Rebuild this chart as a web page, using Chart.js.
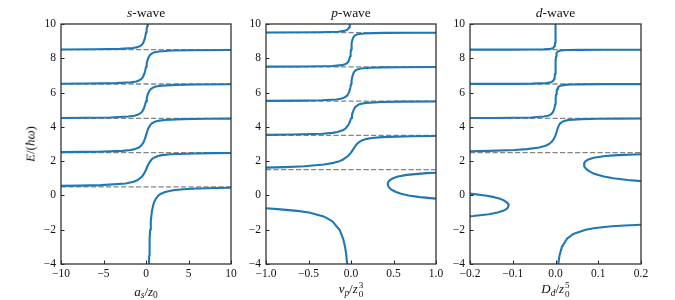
<!DOCTYPE html>
<html><head><meta charset="utf-8">
<script src="https://cdn.jsdelivr.net/npm/chart.js@4.4.1/dist/chart.umd.min.js"></script>
<style>
html,body{margin:0;padding:0;background:#fff;}
#wrap{position:relative;width:675px;height:300px;overflow:hidden;font-family:"Liberation Serif","Times New Roman",serif;color:#111;}
canvas{position:absolute;top:0;}
.t{position:absolute;transform:translate(-50%,-50%);white-space:nowrap;font-size:13.5px;line-height:1;}
.xl{font-size:13px;}
.t sub{font-size:72%;vertical-align:-0.3em;line-height:0;}
.ss{display:inline-flex;flex-direction:column;font-size:70%;line-height:0.95;vertical-align:middle;margin-left:1px;}
</style></head>
<body>
<div id="wrap">
<canvas id="cs" width="245" height="300" style="left:0px"></canvas>
<canvas id="cp" width="205" height="300" style="left:245px"></canvas>
<canvas id="cd" width="225" height="300" style="left:450px"></canvas>
<div class="t" style="left:146px;top:12.5px"><i>s</i>-wave</div>
<div class="t" style="left:351px;top:12.5px"><i>p</i>-wave</div>
<div class="t" style="left:555.5px;top:12.5px"><i>d</i>-wave</div>
<div class="t xl" style="left:146px;top:291px"><i>a</i><sub><i>s</i></sub>/<i>z</i><sub>0</sub></div>
<div class="t xl" style="left:351px;top:290px"><i>v</i><sub><i>p</i></sub>/<i>z</i><span class="ss"><span>3</span><span>0</span></span></div>
<div class="t xl" style="left:555.5px;top:290px"><i>D</i><sub><i>d</i></sub>/<i>z</i><span class="ss"><span>5</span><span>0</span></span></div>
<div class="t xl" style="left:30px;top:144px;transform:translate(-50%,-50%) rotate(-90deg)"><i>E</i>/(<i>ħω</i>)</div>
</div>
<script>
// ---- axis ticks ----
const yTicks = [-4, -2, 0, 2, 4, 6, 8, 10];
const yTickLabels = ['\u22124', '\u22122', '0', '2', '4', '6', '8', '10'];
const sTicks = [-10, -5, 0, 5, 10];
const sTickLabels = ['\u221210', '\u22125', '0', '5', '10'];
const pTicks = [-1, -0.5, 0, 0.5, 1];
const pTickLabels = ['\u22121.0', '\u22120.5', '0.0', '0.5', '1.0'];
const dTicks = [-0.2, -0.1, 0, 0.1, 0.2];
const dTickLabels = ['\u22120.2', '\u22120.1', '0.0', '0.1', '0.2'];

// ---- dashed reference levels E/(hbar omega) ----
const sLevels = [0.5, 2.5, 4.5, 6.5, 8.5];
const pLevels = [1.5, 3.5, 5.5, 7.5, 9.5];
const dLevels = [2.5, 4.5, 6.5, 8.5];

// ---- s-wave branches [a_s/z0, E] ----
const s0 = [[0.352,-4],[0.376,-3.5],[0.406,-3],[0.443,-2.5],[0.493,-2],[0.564,-1.5],[0.676,-1],[0.742,-0.8],[0.886,-0.5],[0.995,-0.35],[1.144,-0.2],[1.479,0],[1.768,0.1],[2.245,0.2],[3.19,0.3],[4.4,0.36],[6.02,0.4],[8.4,0.43],[10,0.444]];
const s1 = [[-10,0.556],[-7.8,0.57],[-5.26,0.6],[-2.39,0.7],[-1.45,0.8],[-0.973,0.9],[-0.471,1.1],[-0.196,1.3],[0,1.5],[0.173,1.7],[0.367,1.9],[0.662,2.1],[0.926,2.2],[1.422,2.3],[1.9,2.35],[2.857,2.4],[5.685,2.45],[8,2.465],[10,2.472]];
const s2 = [[-10,2.528],[-7.5,2.538],[-5.63,2.55],[-2.77,2.6],[-1.81,2.65],[-1.324,2.7],[-0.83,2.8],[-0.571,2.9],[-0.292,3.1],[-0.126,3.3],[0,3.5],[0.119,3.7],[0.26,3.9],[0.481,4.1],[0.677,4.2],[1.049,4.3],[1.412,4.35],[2.129,4.4],[4.26,4.45],[7.09,4.47],[10,4.479]];
const s3 = [[-10,4.521],[-7,4.53],[-4.21,4.55],[-2.082,4.6],[-1.366,4.65],[-1.004,4.7],[-0.634,4.8],[-0.44,4.9],[-0.227,5.1],[-0.1,5.3],[0,5.5],[0.096,5.7],[0.212,5.9],[0.394,6.1],[0.557,6.2],[0.867,6.3],[1.169,6.35],[1.765,6.4],[3.537,6.45],[5.89,6.47],[10,6.482]];
const s4 = [[-10,6.518],[-7,6.525],[-3.511,6.55],[-1.738,6.6],[-1.142,6.65],[-0.841,6.7],[-0.532,6.8],[-0.37,6.9],[-0.193,7.1],[-0.085,7.3],[0,7.5],[0.083,7.7],[0.183,7.9],[0.342,8.1],[0.485,8.2],[0.755,8.3],[1.019,8.35],[1.54,8.4],[3.091,8.45],[5.15,8.47],[10,8.485]];
const s5 = [[-10,8.515],[-6,8.526],[-3.073,8.55],[-1.522,8.6],[-1.001,8.65],[-0.738,8.7],[-0.468,8.8],[-0.326,8.9],[-0.17,9.1],[-0.075,9.3],[0,9.5],[0.074,9.7],[0.163,9.9],[0.224,10]];

// ---- p-wave branches [v_p/z0^3, E] ----
const pLow = [[-1,-0.745],[-0.864,-0.8],[-0.632,-0.9],[-0.493,-1],[-0.311,-1.25],[-0.222,-1.5],[-0.135,-2],[-0.094,-2.5],[-0.07,-3],[-0.055,-3.5],[-0.045,-4]];
const pLoop = [[1,1.325],[0.887,1.3],[0.66,1.2],[0.553,1.1],[0.493,1.0],[0.459,0.9],[0.44,0.8],[0.4325,0.7],[0.434,0.6],[0.443,0.5],[0.461,0.4],[0.489,0.3],[0.53,0.2],[0.589,0.1],[0.676,0],[0.811,-0.1],[1,-0.185]];
const p1 = [[-1,1.62],[-0.777,1.65],[-0.548,1.7],[-0.317,1.8],[-0.203,1.9],[-0.135,2.0],[-0.0915,2.1],[-0.0353,2.3],[0,2.5],[0.0271,2.7],[0.0541,2.9],[0.0704,3.0],[0.0919,3.1],[0.1248,3.2],[0.1862,3.3],[0.246,3.35],[0.365,3.4],[0.719,3.45],[1,3.464]];
const p2 = [[-1,3.535],[-0.699,3.55],[-0.337,3.6],[-0.218,3.65],[-0.158,3.7],[-0.0974,3.8],[-0.0659,3.9],[-0.0317,4.1],[-0.0131,4.3],[0,4.5],[0.0114,4.7],[0.024,4.9],[0.0428,5.1],[0.0593,5.2],[0.0902,5.3],[0.12,5.35],[0.18,5.4],[0.357,5.45],[0.592,5.47],[1,5.482]];
const p3 = [[-1,5.518],[-0.585,5.53],[-0.348,5.55],[-0.1705,5.6],[-0.111,5.65],[-0.0813,5.7],[-0.0504,5.8],[-0.0344,5.9],[-0.0172,6.1],[-0.0073,6.3],[0,6.5],[0.0067,6.7],[0.0143,6.9],[0.026,7.1],[0.0363,7.2],[0.0557,7.3],[0.0746,7.35],[0.1118,7.4],[0.222,7.45],[0.369,7.47],[0.552,7.48],[1,7.489]];
const p4 = [[-1,7.511],[-0.55,7.52],[-0.2185,7.55],[-0.1073,7.6],[-0.07,7.65],[-0.0511,7.7],[-0.032,7.8],[-0.022,7.9],[-0.0112,8.1],[-0.0048,8.3],[0,8.5],[0.0045,8.7],[0.0097,8.9],[0.0178,9.1],[0.0249,9.2],[0.0385,9.3],[0.0516,9.35],[0.0777,9.4],[0.155,9.45],[0.257,9.47],[0.386,9.48],[0.772,9.49],[1,9.492]];
const p5 = [[-1,9.508],[-0.385,9.52],[-0.1525,9.55],[-0.0751,9.6],[-0.0491,9.65],[-0.036,9.7],[-0.0226,9.8],[-0.0157,9.9],[-0.0112,10]];

// ---- d-wave branches [D_d/z0^5, E] ----
const dLow = [[0.2,-1.71],[0.162,-1.75],[0.1317,-1.8],[0.0929,-1.9],[0.0704,-2],[0.0414,-2.25],[0.0277,-2.5],[0.015,-3],[0.0094,-3.5],[0.0064,-4]];
const dLoopL = [[-0.2,0.105],[-0.1644,0],[-0.1434,-0.1],[-0.1294,-0.2],[-0.1201,-0.3],[-0.1141,-0.4],[-0.1108,-0.5],[-0.1098,-0.6],[-0.1112,-0.7],[-0.1153,-0.8],[-0.1227,-0.9],[-0.1352,-1],[-0.1559,-1.1],[-0.1927,-1.2],[-0.2,-1.215]];
const dLoopR = [[0.2,2.401],[0.1451,2.35],[0.1167,2.3],[0.0893,2.2],[0.0768,2.1],[0.0704,2.0],[0.0675,1.9],[0.0667,1.8],[0.0676,1.7],[0.0699,1.6],[0.0738,1.5],[0.0795,1.4],[0.0874,1.3],[0.0982,1.2],[0.1133,1.1],[0.1352,1.0],[0.169,0.9],[0.193,0.85],[0.2,0.835]];
const d1 = [[-0.2,2.58],[-0.1547,2.6],[-0.096,2.65],[-0.0667,2.7],[-0.0377,2.8],[-0.0234,2.9],[-0.015,3.0],[-0.0099,3.1],[-0.0037,3.3],[0,3.5],[0.0026,3.7],[0.005,3.9],[0.0064,4.0],[0.0083,4.1],[0.011,4.2],[0.0162,4.3],[0.0212,4.35],[0.0311,4.4],[0.0606,4.45],[0.0999,4.47],[0.149,4.48],[0.2,4.485]];
const d2 = [[-0.2,4.515],[-0.1465,4.52],[-0.057,4.55],[-0.0275,4.6],[-0.0176,4.65],[-0.0127,4.7],[-0.0076,4.8],[-0.0051,4.9],[-0.0024,5.1],[-0.001,5.3],[0,5.5],[0.0008,5.7],[0.0016,5.9],[0.0028,6.1],[0.0039,6.2],[0.0058,6.3],[0.0077,6.35],[0.0114,6.4],[0.0225,6.45],[0.0372,6.47],[0.0556,6.48],[0.1106,6.49],[0.2,6.4945]];
const d3 = [[-0.2,6.5055],[-0.11,6.51],[-0.0548,6.52],[-0.0216,6.55],[-0.0105,6.6],[-0.0049,6.7],[-0.003,6.8],[-0.002,6.9],[-0.001,7.1],[-0.0004,7.3],[0,7.5],[0.0004,7.7],[0.0008,7.9],[0.0013,8.1],[0.0019,8.2],[0.0028,8.3],[0.0056,8.4],[0.0112,8.45],[0.0185,8.47],[0.0277,8.48],[0.0553,8.49],[0.1104,8.495],[0.2,8.4972]];
const d4 = [[-0.2,8.5028],[-0.1102,8.505],[-0.0551,8.51],[-0.0275,8.52],[-0.0108,8.55],[-0.0053,8.6],[-0.0025,8.7],[-0.0016,8.8],[-0.0011,8.9],[-0.0005,9.1],[-0.0002,9.3],[0,9.5],[0.0002,9.7],[0.0004,9.9],[0.0006,10]];

// ---- styling ----
const FONT = '"Liberation Serif","Times New Roman",serif';
const curveColor = '#1f77b4';
const dashColor = '#858585';

const framePlugin = {
  id: 'frame',
  afterDraw(chart) {
    const {ctx, chartArea: a, scales} = chart;
    ctx.save();
    ctx.strokeStyle = '#222';
    ctx.lineWidth = 1;
    scales.x.ticks.forEach(t => {
      const px = Math.round(scales.x.getPixelForValue(t.value)) + 0.5;
      ctx.beginPath(); ctx.moveTo(px, a.bottom); ctx.lineTo(px, a.bottom - 3.5); ctx.stroke();
    });
    scales.y.ticks.forEach(t => {
      const py = Math.round(scales.y.getPixelForValue(t.value)) + 0.5;
      ctx.beginPath(); ctx.moveTo(a.left, py); ctx.lineTo(a.left + 3.5, py); ctx.stroke();
    });
    ctx.strokeStyle = '#333';
    ctx.lineWidth = 1.3;
    ctx.strokeRect(a.left, a.top, a.right - a.left, a.bottom - a.top);
    ctx.restore();
  }
};

function makePanel(id, yAxisW, padRight, xMin, xMax, xTicks, xLabels, branches, levels) {
  const datasets = [];
  branches.forEach(b => datasets.push({
    data: b.map(p => ({x: p[0], y: p[1]})),
    showLine: true, borderColor: curveColor, borderWidth: 2.1,
    pointRadius: 0, tension: 0, fill: false, order: 1,
    borderCapStyle: 'butt', borderJoinStyle: 'round'
  }));
  levels.forEach(l => datasets.push({
    data: [{x: xMin, y: l}, {x: xMax, y: l}],
    showLine: true, borderColor: dashColor, borderWidth: 1.3,
    borderDash: [5.2, 2.3], pointRadius: 0, fill: false, order: 2
  }));
  const tickFont = {family: FONT, size: 11.5};
  return new Chart(document.getElementById(id), {
    type: 'scatter',
    data: {datasets},
    options: {
      responsive: false, animation: false, devicePixelRatio: 1, events: [],
      layout: {padding: {left: 0, right: padRight, top: 24, bottom: 0}},
      plugins: {legend: {display: false}, tooltip: {enabled: false}, title: {display: false}},
      scales: {
        x: {
          type: 'linear', min: xMin, max: xMax,
          grid: {display: false, drawTicks: false}, border: {display: false},
          afterBuildTicks: s => { s.ticks = xTicks.map(v => ({value: v})); },
          afterFit: s => { s.height = 36; },
          ticks: {autoSkip: false, maxRotation: 0, padding: 3, color: '#111', font: tickFont,
                  callback: (v, i) => xLabels[i]}
        },
        y: {
          type: 'linear', min: -4, max: 10,
          grid: {display: false, drawTicks: false}, border: {display: false},
          afterBuildTicks: s => { s.ticks = yTicks.map(v => ({value: v})); },
          afterFit: s => { s.width = yAxisW; },
          ticks: {autoSkip: false, padding: 5, color: '#111', font: tickFont,
                  callback: (v, i) => yTickLabels[i]}
        }
      }
    },
    plugins: [framePlugin]
  });
}

makePanel('cs', 61, 14, -10, 10, sTicks, sTickLabels, [s0, s1, s2, s3, s4, s5], sLevels);
makePanel('cp', 21, 14, -1, 1, pTicks, pTickLabels, [pLow, pLoop, p1, p2, p3, p4, p5], pLevels);
makePanel('cd', 20, 34, -0.2, 0.2, dTicks, dTickLabels, [dLow, dLoopL, dLoopR, d1, d2, d3, d4], dLevels);
</script>
</body></html>
